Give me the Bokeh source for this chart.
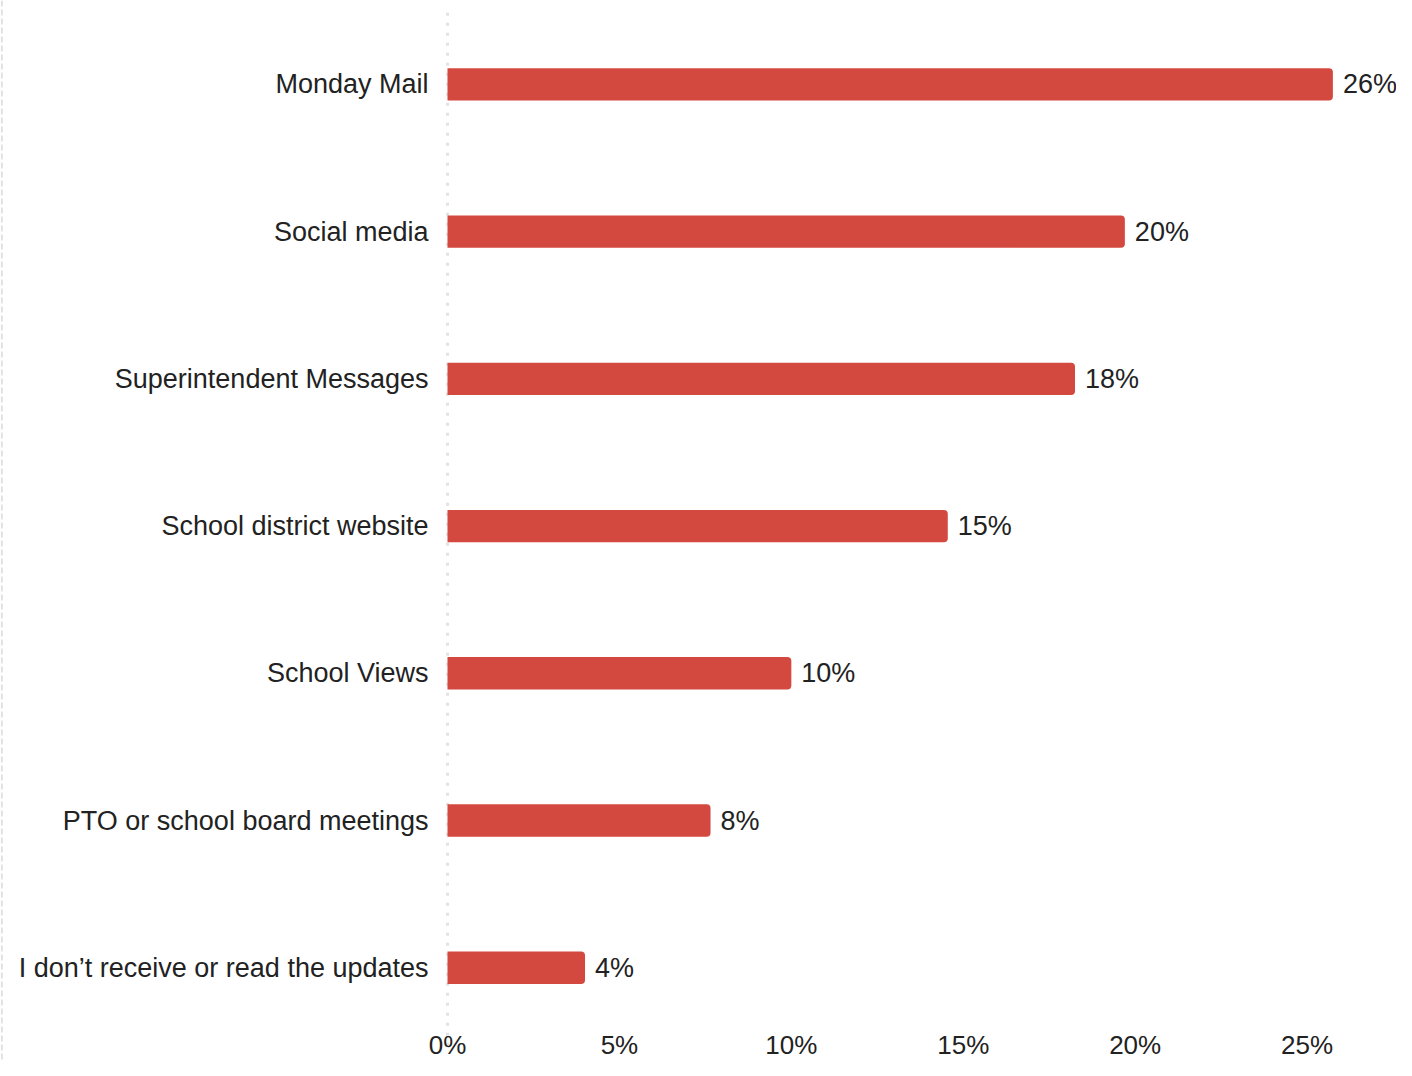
from bokeh.plotting import figure
from bokeh.models import ColumnDataSource, Range1d, Span
from bokeh.core.properties import value
from bokeh.embed import file_html
from bokeh.resources import INLINE

categories = [
    "Monday Mail",
    "Social media",
    "Superintendent Messages",
    "School district website",
    "School Views",
    "PTO or school board meetings",
    "I don\u2019t receive or read the updates",
]
shares = [25.75, 19.7, 18.25, 14.55, 10.0, 7.65, 4.0]
share_labels = ["26%", "20%", "18%", "15%", "10%", "8%", "4%"]
x_ticks = [0, 5, 10, 15, 20, 25]
x_tick_labels = ["0%", "5%", "10%", "15%", "20%", "25%"]

FONT = "Liberation Sans"
TEXT = "#222222"
BAR = "#D4493F"

n = len(categories)
X_START, X_END = -13.0, 27.6
Y_BOTTOM, Y_TOP = -0.63, n - 0.43

# category rows from top (first) to bottom (last)
ypos = [n - 1 - i for i in range(n)]

src = ColumnDataSource(dict(cat=categories, val=shares, lab=share_labels,
                            y=ypos, zero=[0] * n))
tick_src = ColumnDataSource(dict(x=x_ticks, lab=x_tick_labels,
                                 y=[Y_BOTTOM] * len(x_ticks)))

p = figure(
    width=1396, height=1060,
    x_range=Range1d(X_START, X_END),
    y_range=Range1d(Y_BOTTOM, Y_TOP),
    output_backend="svg", toolbar_location=None,
    min_border_left=0, min_border_right=0, min_border_top=0, min_border_bottom=0,
)
p.outline_line_color = None
p.background_fill_color = "white"
p.border_fill_color = "white"
p.xgrid.grid_line_color = None
p.ygrid.grid_line_color = None
p.xaxis.visible = False
p.yaxis.visible = False

# faint dashed line at the left edge
left_edge = Span(location=X_START + 0.04, dimension="height", line_color="#e2e2e2",
                 line_width=2, line_dash="6 3", level="underlay")
p.add_layout(left_edge)

# dotted zero line (ends above the tick labels)
p.segment(x0=[0], y0=[-0.53], x1=[0], y1=[n - 0.5], line_color="#e3e3e3",
          line_width=3, line_dash="3 7")

p.hbar(y="y", right="val", left=0, height=0.22, source=src,
       fill_color=BAR, line_color=None, border_radius=(0, 4, 4, 0))

# value labels
p.text(x="val", y="y", text="lab", source=src, x_offset=10,
       text_baseline="middle", text_align="left",
       text_font=value(FONT), text_font_size="27px", text_color=TEXT)

# category labels
p.text(x="zero", y="y", text="cat", source=src, x_offset=-19,
       text_baseline="middle", text_align="right",
       text_font=value(FONT), text_font_size="27px", text_color=TEXT)

# x tick labels
p.text(x="x", y="y", text="lab", source=tick_src, y_offset=-1,
       text_baseline="bottom", text_align="center",
       text_font=value(FONT), text_font_size="26px", text_color=TEXT)

open("out.html", "w").write(file_html(p, INLINE))
